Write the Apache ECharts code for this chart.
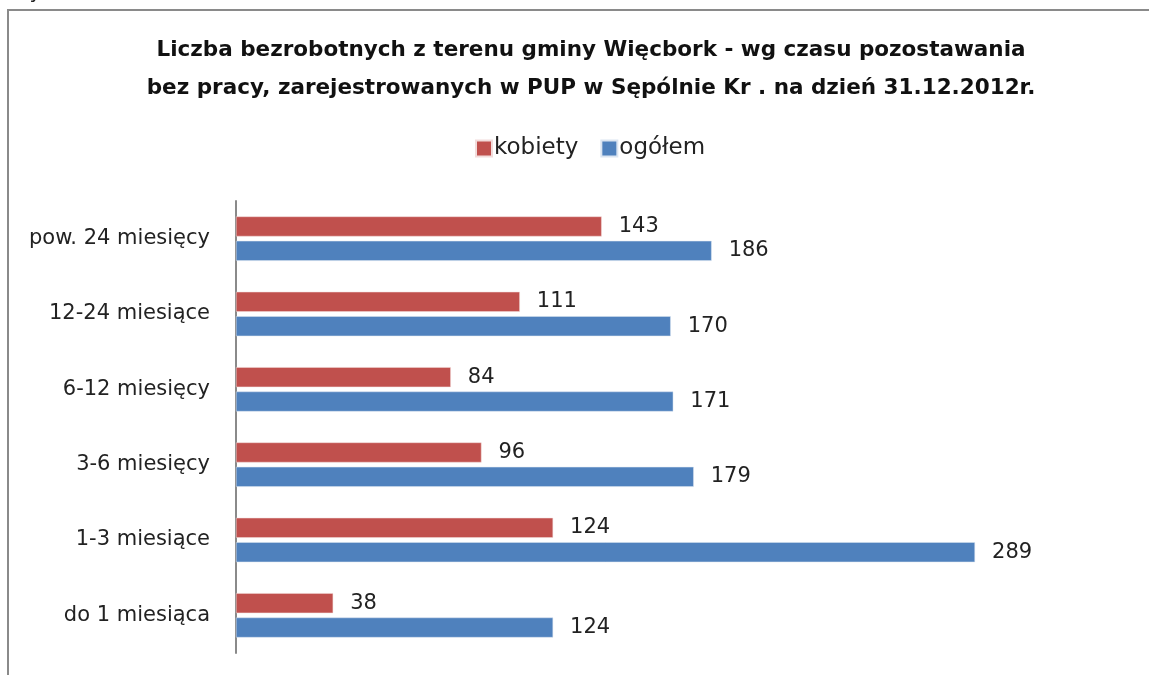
<!DOCTYPE html>
<html>
<head>
<meta charset="utf-8">
<script src="https://cdn.jsdelivr.net/npm/echarts@6/dist/echarts.min.js"></script>
<style>
  html, body { margin: 0; padding: 0; background: #fff; }
  #chart { width: 1149px; height: 675px; }
</style>
</head>
<body>
<div id="chart"></div>
<script>
// dane: od dołu do góry (oś kategorii zaczyna się na dole)
var categories = ['do 1 miesiąca', '1-3 miesiące', '3-6 miesięcy', '6-12 miesięcy', '12-24 miesiące', 'pow. 24 miesięcy'];
var kobiety = [38, 124, 96, 84, 111, 143];
var ogolem = [124, 289, 179, 171, 170, 186];

var FONT = '"DejaVu Sans", sans-serif';

var myChart = echarts.init(document.getElementById('chart'));

var labelStyle = {
    show: true,
    position: 'right',
    distance: 17,
    color: '#222',
    fontSize: 21,
    fontFamily: FONT
};

var option = {
    animation: false,
    backgroundColor: '#fff',
    title: {
        text: 'Liczba bezrobotnych z terenu gminy Więcbork - wg czasu pozostawania\nbez pracy, zarejestrowanych w PUP w Sępólnie Kr . na dzień 31.12.2012r.',
        left: 586,
        textAlign: 'center',
        top: 26,
        textStyle: {
            fontFamily: FONT,
            fontSize: 21.5,
            fontWeight: 'bold',
            color: '#111',
            lineHeight: 38
        }
    },
    legend: {
        data: ['kobiety', 'ogółem'],
        left: 470,
        top: 132,
        itemWidth: 16,
        itemHeight: 16,
        itemGap: 22,
        icon: 'rect',
        textStyle: {
            fontFamily: FONT,
            fontSize: 23,
            color: '#222',
            padding: [0, 0, 0, -3]
        }
    },
    grid: {
        left: 236,
        right: 18,
        top: 201,
        bottom: 22,
        containLabel: false
    },
    xAxis: {
        type: 'value',
        min: 0,
        max: 350,
        show: false
    },
    yAxis: {
        type: 'category',
        data: categories,
        axisLine: { show: true, lineStyle: { color: '#8a8a8a', width: 2 } },
        axisTick: { show: false },
        axisLabel: {
            margin: 26,
            fontFamily: FONT,
            fontSize: 21,
            color: '#222'
        }
    },
    series: [
        {
            name: 'kobiety',
            type: 'bar',
            data: kobiety,
            barWidth: 20,
            barGap: '22%',
            itemStyle: { color: '#C0504D', borderColor: '#f2dcdb', borderWidth: 0.5 },
            label: labelStyle
        },
        {
            name: 'ogółem',
            type: 'bar',
            data: ogolem,
            barWidth: 20,
            barGap: '22%',
            itemStyle: { color: '#4F81BD', borderColor: '#dbe5f1', borderWidth: 0.5 },
            label: labelStyle
        }
    ],
    graphic: [
        {
            type: 'rect',
            shape: { x: 8, y: 10, width: 1200, height: 800 },
            style: { fill: 'none', stroke: '#8a8a8a', lineWidth: 2 },
            silent: true
        },
        {
            type: 'text',
            left: 10,
            top: -17,
            style: { text: 'Wykres 36', fontFamily: FONT, fontSize: 20, fill: '#222' },
            silent: true
        }
    ]
};
myChart.setOption(option);

window.onresize = function() {
    myChart.resize();
};
</script>
</body>
</html>
